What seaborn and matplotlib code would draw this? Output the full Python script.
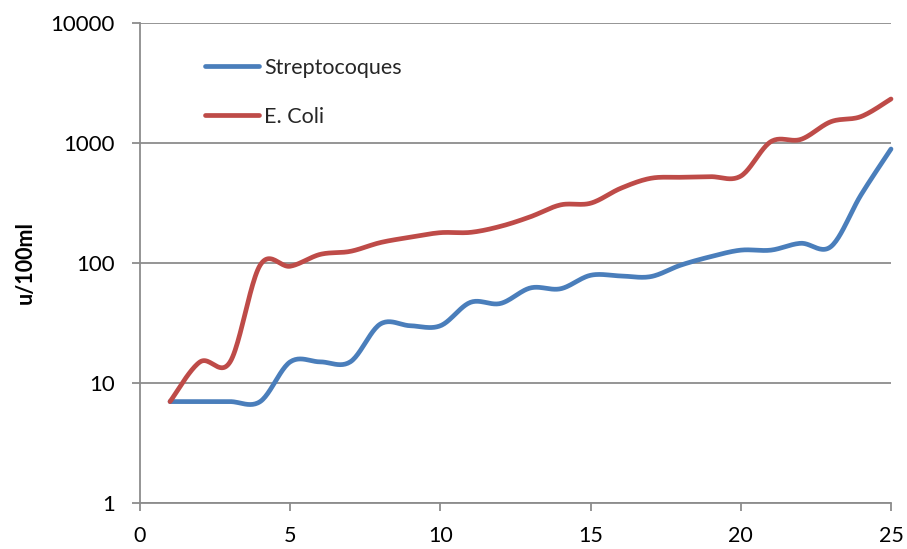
import numpy as np
import pandas as pd
import matplotlib
matplotlib.use("Agg")
import matplotlib.pyplot as plt
import seaborn as sns
from matplotlib.ticker import FixedLocator, NullLocator, FixedFormatter

# ---------------- data ----------------
days = list(range(1, 26))
streptocoques = [7, 7, 7, 7, 15, 15, 15, 31, 30, 30, 47, 46, 62, 61, 79, 78, 77,
                 96, 113, 128, 128, 146, 137, 369, 891]
e_coli = [7, 15, 15, 96, 94, 118, 125, 148, 164, 179, 180, 202, 243, 305, 315,
          419, 508, 518, 524, 530, 1026, 1072, 1505, 1660, 2327]
series_names = ["Streptocoques", "E. Coli"]
y_ticks = [1, 10, 100, 1000, 10000]
y_tick_labels = ["1", "10", "100", "1000", "10000"]
x_ticks = [0, 5, 10, 15, 20, 25]
y_label = "u/100ml"

colors = {"Streptocoques": "#4A7EBB", "E. Coli": "#BE4B48"}


def smooth(x, y, n=24):
    """Excel-like smoothed line (Catmull-Rom in screen space: x, log10 y)."""
    P = np.column_stack([np.asarray(x, float), np.log10(np.asarray(y, float))])
    P = np.vstack([P[0], P, P[-1]])
    out = []
    t = np.linspace(0, 1, n, endpoint=False)[:, None]
    h00 = 2 * t**3 - 3 * t**2 + 1
    h10 = t**3 - 2 * t**2 + t
    h01 = -2 * t**3 + 3 * t**2
    h11 = t**3 - t**2
    for i in range(1, len(P) - 2):
        p0, p1, p2, p3 = P[i - 1], P[i], P[i + 1], P[i + 2]
        m1 = (p2 - p0) / 2
        m2 = (p3 - p1) / 2
        out.append(h00 * p1 + h10 * m1 + h01 * p2 + h11 * m2)
    out.append(P[-2][None, :])
    S = np.vstack(out)
    return S[:, 0], 10 ** S[:, 1]


frames = []
for name, vals in zip(series_names, [streptocoques, e_coli]):
    sx, sy = smooth(days, vals)
    frames.append(pd.DataFrame({"x": sx, "y": sy, "series": name}))
df = pd.concat(frames, ignore_index=True)

# ---------------- plot ----------------
sns.set_theme(style="white")
plt.rcParams["font.family"] = ["Lato", "DejaVu Sans"]

fig = plt.figure(figsize=(9.07, 5.49), dpi=100)
ax = fig.add_axes([140 / 907, 46 / 549, 751 / 907, 480 / 549])
ax.set_yscale("log")

sns.lineplot(data=df, x="x", y="y", hue="series", hue_order=series_names,
             palette=colors, sort=False, estimator=None, linewidth=3.4,
             ax=ax, legend=True, zorder=3)
for ln in ax.get_lines():
    ln.set_solid_capstyle("round")
    ln.set_solid_joinstyle("round")
    ln.set_clip_on(False)

ax.set_xlim(0, 25)
ax.set_ylim(1, 10000)
ax.xaxis.set_major_locator(FixedLocator(x_ticks))
ax.yaxis.set_major_locator(FixedLocator(y_ticks))
ax.yaxis.set_major_formatter(FixedFormatter(y_tick_labels))
ax.yaxis.set_minor_locator(NullLocator())
ax.xaxis.set_minor_locator(NullLocator())

grid_c = "#8C8C8C"
ax.grid(axis="y", color=grid_c, linewidth=1.3, zorder=0)
ax.grid(axis="x", visible=False)
for s in ["top", "right"]:
    ax.spines[s].set_visible(False)
for s in ["left", "bottom"]:
    ax.spines[s].set_color(grid_c)
    ax.spines[s].set_linewidth(1.3)

ax.tick_params(axis="y", which="major", direction="out", length=6, width=1.3,
               color=grid_c, labelsize=16, pad=12, labelcolor="black", left=True)
ax.tick_params(axis="x", which="major", direction="out", length=5.5, width=1.3,
               color=grid_c, labelsize=15.5, pad=11, labelcolor="black", bottom=True)

ax.set_xlabel("")
ax.set_ylabel(y_label, fontsize=15.5, fontweight="bold", labelpad=11, color="black")

handles, labels = ax.get_legend_handles_labels()
leg = ax.legend(handles, labels, loc="upper left", bbox_to_anchor=(0.0866, 0.928),
                frameon=False, fontsize=15.5, handlelength=2.5, handletextpad=0.25,
                labelspacing=1.35, borderpad=0, borderaxespad=0)
for h in leg.legend_handles:
    h.set_linewidth(3.4)
    h.set_solid_capstyle("round")

fig.savefig("out.png", dpi=100)
